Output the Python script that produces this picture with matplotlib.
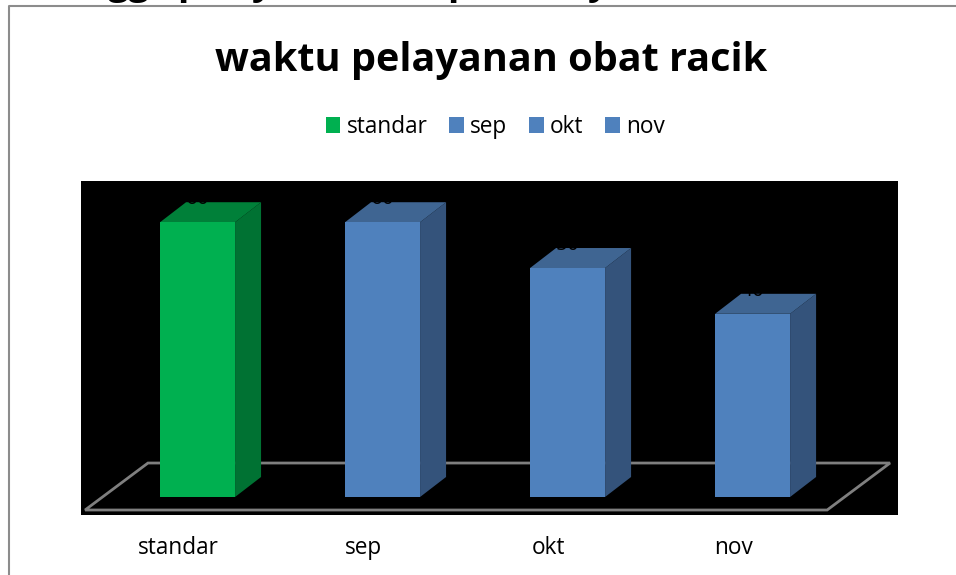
import matplotlib
matplotlib.use("Agg")
import matplotlib.pyplot as plt
from matplotlib.patches import Polygon, Rectangle
from matplotlib.lines import Line2D

categories = ["standar", "sep", "okt", "nov"]
values = [60, 60, 50, 40]
front_colors = ["#00B050", "#4F81BD", "#4F81BD", "#4F81BD"]
side_colors = ["#007233", "#34537B", "#34537B", "#34537B"]
top_colors = ["#008039", "#3F6592", "#3F6592", "#3F6592"]
title_text = "waktu pelayanan obat racik"

W, H = 956, 575
plt.rcParams["font.family"] = ["Open Sans", "DejaVu Sans"]
fig = plt.figure(figsize=(W / 100, H / 100), dpi=100, facecolor="white")

def fx(p): return p / W
def fy(p): return 1 - p / H

# Outer chart frame
fig.add_artist(Line2D([fx(9), fx(9), 1], [0, fy(5.5), fy(5.5)], color="#8C8C8C", lw=1.5))

# Descenders of the cropped heading above the chart
for s, x in [("gg", 129), ("p", 189), ("y", 262), ("p", 459), ("y", 598)]:
    fig.text(fx(x), fy(-6), s, fontsize=27, fontweight="bold", color="black",
             ha="center", va="baseline")

# Scale: 185 px per category, 4.58 px per value unit
ax = fig.add_axes([fx(81), 1 - 515 / H, (898 - 81) / W, (515 - 181) / H], facecolor="black")
ax.set_xlim(-0.63, 3.786)
ax.set_ylim(-3.93, 69.0)
for s in ax.spines.values():
    s.set_visible(False)

depth_x, depth_y = 26 / 185, 20 / 4.58
width = 75 / 185

# Floor
ax.add_patch(Polygon([(-0.608, -2.84), (3.403, -2.84), (3.743, 7.42), (-0.268, 7.42)],
                     closed=True, fill=False, edgecolor="#7F7F7F", lw=2, zorder=1))

for i, (c, v) in enumerate(zip(categories, values)):
    l, r = i - width / 2, i + width / 2
    ax.add_patch(Polygon([(r, 0), (r + depth_x, depth_y), (r + depth_x, v + depth_y), (r, v)],
                         closed=True, fc=side_colors[i], ec="none", zorder=2))
    ax.add_patch(Polygon([(l, v), (r, v), (r + depth_x, v + depth_y), (l + depth_x, v + depth_y)],
                         closed=True, fc=top_colors[i], ec="none", zorder=2))
    ax.bar(i, v, width=width, color=front_colors[i], label=c, zorder=3)
    ax.text(i, v + 3.93, str(v), color="black", fontsize=15, ha="center", va="baseline", zorder=4)

ax.set_xticks([i - 0.105 for i in range(len(categories))], categories)
ax.tick_params(axis="x", length=0, labelsize=16.3, pad=15, labelcolor="black")
ax.set_yticks([])

fig.text(fx(491), fy(71), title_text, fontsize=28.5, fontweight="bold", ha="center", va="baseline")

leg = fig.legend(loc="center", bbox_to_anchor=(fx(495), fy(127)), ncols=4, frameon=False,
                 fontsize=16.3, handlelength=0.66, handleheight=0.66, handletextpad=0.27,
                 columnspacing=0.95, borderpad=0)

fig.savefig("out.png", dpi=100)
